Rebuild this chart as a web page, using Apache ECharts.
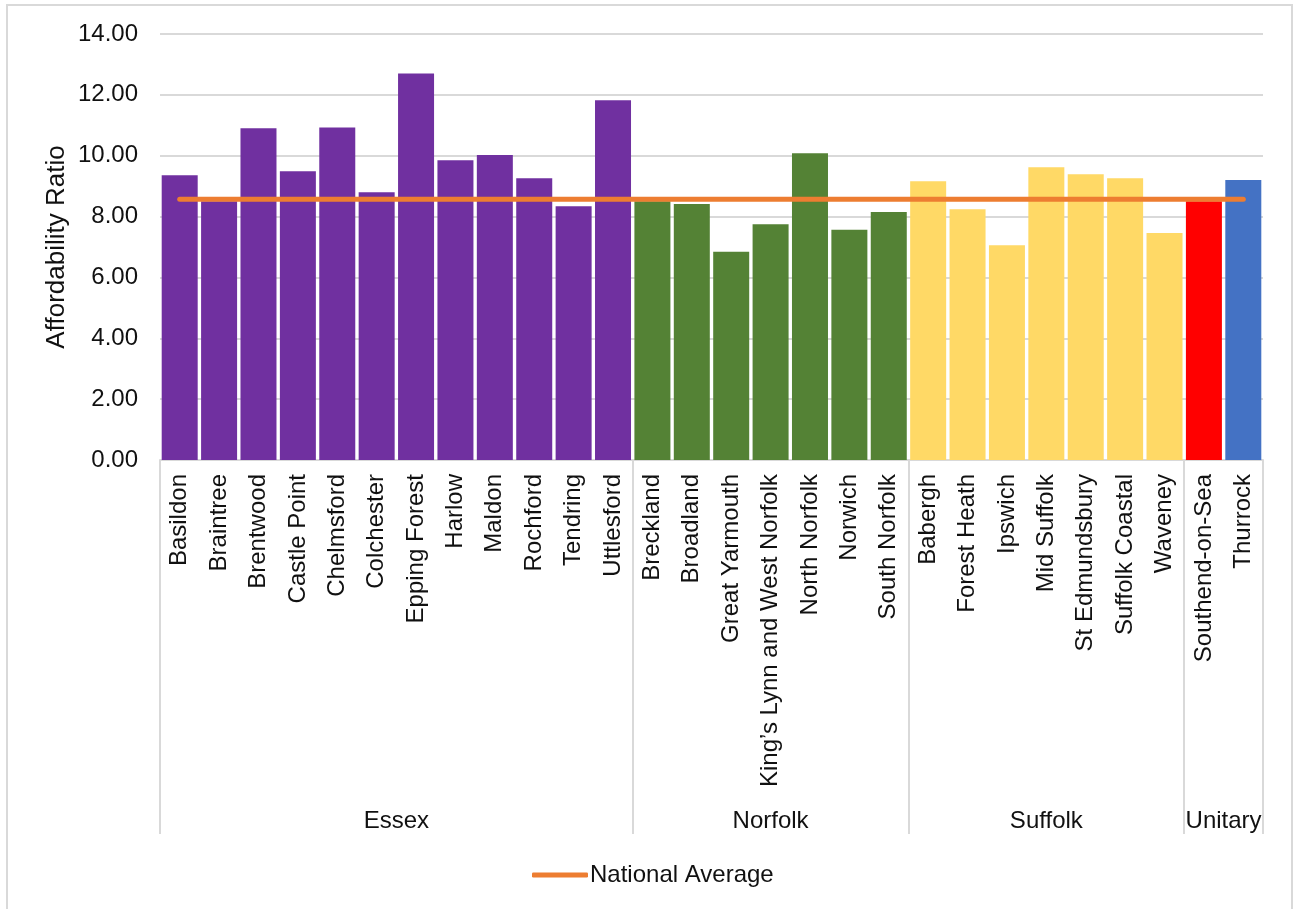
<!DOCTYPE html>
<html>
<head>
<meta charset="utf-8">
<title>Affordability Ratio by District</title>
<script src="https://cdn.jsdelivr.net/npm/echarts@6/dist/echarts.min.js"></script>
<style>
  html, body { margin: 0; padding: 0; background: #ffffff; }
  #chart { width: 1298px; height: 909px; }
</style>
</head>
<body>
<div id="chart"></div>
<script>
// County groupings along the bottom axis, and how many districts each holds
const groups = ['Essex', 'Norfolk', 'Suffolk', 'Unitary'];
const groupSizes = [12, 7, 7, 2];

const districts = [
  'Basildon', 'Braintree', 'Brentwood', 'Castle Point', 'Chelmsford', 'Colchester',
  'Epping Forest', 'Harlow', 'Maldon', 'Rochford', 'Tendring', 'Uttlesford',
  'Breckland', 'Broadland', 'Great Yarmouth', 'King\u2019s Lynn and West Norfolk',
  'North Norfolk', 'Norwich', 'South Norfolk',
  'Babergh', 'Forest Heath', 'Ipswich', 'Mid Suffolk', 'St Edmundsbury',
  'Suffolk Coastal', 'Waveney',
  'Southend-on-Sea', 'Thurrock'
];

// House price to earnings affordability ratio per district
const ratios = [
  9.36, 8.50, 10.90, 9.49, 10.93, 8.80,
  12.70, 9.85, 10.02, 9.26, 8.34, 11.82,
  8.50, 8.41, 6.84, 7.75,
  10.08, 7.57, 8.15,
  9.16, 8.24, 7.06, 9.62, 9.39,
  9.26, 7.46,
  8.50, 9.20
];

const nationalAverage = 8.57;

const yTicks = { min: 0, max: 14, step: 2 };

// Fill colours: by county, with the two unitary authorities coloured individually
const fillColours = {
  'Essex': '#7030A0',
  'Norfolk': '#548235',
  'Suffolk': '#FFD966',
  'Southend-on-Sea': '#FF0000',
  'Thurrock': '#4472C4'
};

// Which county each district belongs to
const districtGroup = [];
groups.forEach((g, gi) => {
  for (let k = 0; k < groupSizes[gi]; k++) districtGroup.push(g);
});

// Group boundaries and centres on a 0..N scale shared with the category axis
const boundaries = [0];
const centres = [];
groupSizes.forEach((n) => {
  const start = boundaries[boundaries.length - 1];
  centres.push(start + n / 2);
  boundaries.push(start + n);
});

const fontFamily = '"Liberation Sans", Arial, sans-serif';
const textColour = '#111111';
const lineGrey = '#D9D9D9';
const averageColour = '#ED7D31';

const chart = echarts.init(document.getElementById('chart'));

chart.setOption({
  animation: false,
  backgroundColor: '#ffffff',
  textStyle: { fontFamily: fontFamily },
  graphic: [{
    type: 'rect',
    shape: { x: 7, y: 5, width: 1285, height: 920 },
    style: { fill: 'none', stroke: lineGrey, lineWidth: 2 },
    silent: true,
    z: -10
  }],
  grid: {
    left: 160,
    right: 35,
    top: 34,
    bottom: 449,
    containLabel: false
  },
  legend: {
    data: [{ name: 'National Average', icon: 'roundRect' }],
    left: 527,
    top: 858,
    itemWidth: 56,
    itemHeight: 5,
    itemStyle: { color: averageColour, borderWidth: 0 },
    textStyle: { fontSize: 24, color: textColour, fontFamily: fontFamily, padding: [0, 0, 0, -3] }
  },
  xAxis: [
    {
      type: 'category',
      data: districts,
      position: 'bottom',
      axisLine: { show: true, lineStyle: { color: lineGrey, width: 2 } },
      axisTick: { show: false },
      axisLabel: {
        rotate: 90,
        interval: 0,
        margin: 14,
        fontSize: 24,
        color: textColour,
        fontFamily: fontFamily
      },
      splitLine: { show: false }
    },
    {
      type: 'value',
      min: 0,
      max: districts.length,
      position: 'bottom',
      axisLine: { show: false },
      splitLine: { show: false },
      axisTick: {
        show: true,
        customValues: boundaries,
        length: 374,
        lineStyle: { color: lineGrey, width: 2 }
      },
      axisLabel: {
        show: true,
        customValues: centres,
        margin: 349,
        fontSize: 24,
        color: textColour,
        fontFamily: fontFamily,
        formatter: (v) => groups[centres.indexOf(v)] || ''
      }
    }
  ],
  yAxis: {
    type: 'value',
    min: yTicks.min,
    max: yTicks.max,
    interval: yTicks.step,
    name: 'Affordability Ratio',
    nameLocation: 'middle',
    nameGap: 90,
    nameMoveOverlap: false,
    nameTextStyle: { fontSize: 26, color: textColour, fontFamily: fontFamily },
    axisLine: { show: false },
    axisTick: { show: false },
    axisLabel: {
      margin: 22,
      fontSize: 24,
      color: textColour,
      fontFamily: fontFamily,
      formatter: (v) => v.toFixed(2)
    },
    splitLine: { show: true, lineStyle: { color: lineGrey, width: 2 } }
  },
  series: [
    {
      name: 'Affordability Ratio',
      type: 'bar',
      xAxisIndex: 0,
      barCategoryGap: '8.6%',
      data: ratios.map((v, i) => ({
        value: v,
        itemStyle: { color: fillColours[districts[i]] || fillColours[districtGroup[i]] }
      })),
      z: 2
    },
    {
      name: 'National Average',
      type: 'line',
      xAxisIndex: 0,
      data: [
        [districts[0], nationalAverage],
        [districts[districts.length - 1], nationalAverage]
      ],
      symbol: 'none',
      lineStyle: { color: averageColour, width: 5, cap: 'round' },
      itemStyle: { color: averageColour },
      z: 5
    }
  ]
});
</script>
</body>
</html>
